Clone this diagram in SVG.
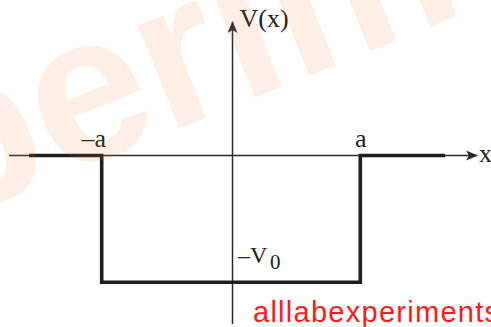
<svg xmlns="http://www.w3.org/2000/svg" width="491" height="327" viewBox="0 0 491 327">
  <defs>
    <style>
      .axis { stroke: #2a2a2a; stroke-width: 1.5; fill: none; }
      .well { stroke: #1e1e1e; stroke-width: 3.6; fill: none; stroke-linejoin: miter; stroke-linecap: butt; }
      .lbl { font-family: "Liberation Serif", "Times New Roman", serif; fill: #222; }
      .wm { font-family: "Liberation Sans", Arial, sans-serif; font-weight: bold; fill: #f07828; fill-opacity: 0.12; }
      .red { font-family: "Liberation Sans", Arial, sans-serif; fill: #ff1a1a; }
    </style>
    <marker id="arr" viewBox="0 0 12 10" refX="11" refY="5" markerWidth="12" markerHeight="10" markerUnits="userSpaceOnUse" orient="auto">
      <path d="M0,0 L12,5 L0,10 L3,5 Z" fill="#2a2a2a"/>
    </marker>
  </defs>
  <rect width="491" height="327" fill="#ffffff"/>

  <g id="connectors">
    <line id="x-axis" class="axis" x1="9" y1="155.5" x2="477" y2="155.5" marker-end="url(#arr)"/>
    <line id="y-axis" class="axis" x1="232.5" y1="324" x2="232.5" y2="22" marker-end="url(#arr)"/>
  </g>

  <g id="potential-well">
    <path class="well" d="M29,155.5 H101.7 V282.3 H360.3 V155.5 H445"/>
  </g>

  <g id="label-Vx">
    <text class="lbl" x="239.5" y="27" font-size="26">V(x)</text>
  </g>
  <g id="label-minus-a">
    <text class="lbl" x="81.5" y="147.3" font-size="26">–a</text>
  </g>
  <g id="label-a">
    <text class="lbl" x="355" y="147.3" font-size="26">a</text>
  </g>
  <g id="label-x">
    <text class="lbl" x="479" y="161.7" font-size="26">x</text>
  </g>
  <g id="label-minus-V0">
    <text class="lbl" x="238" y="262.7" font-size="24">–V<tspan x="270" y="269.3" font-size="21">0</tspan></text>
  </g>

  <g id="watermark">
    <text class="wm" x="0" y="0" font-size="210" transform="translate(-278,313) rotate(-22)">experiments</text>
    <text class="red" x="253" y="321.7" font-size="29" textLength="246" lengthAdjust="spacing">alllabexperiments</text>
  </g>
</svg>
